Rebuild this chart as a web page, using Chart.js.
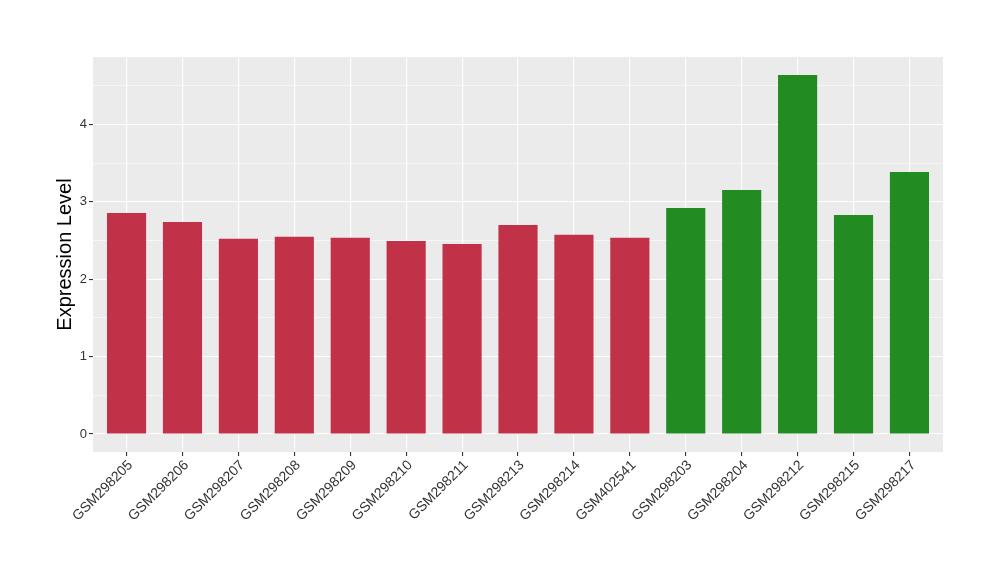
<!DOCTYPE html>
<html>
<head>
<meta charset="utf-8">
<script src="https://cdn.jsdelivr.net/npm/chart.js@4"></script>
<style>
  html, body { margin: 0; padding: 0; background: #ffffff; }
  #wrap { width: 1000px; height: 580px; }
</style>
</head>
<body>
<div id="wrap"><canvas id="expr" width="1000" height="580"></canvas></div>
<script>
const samples = ['GSM298205', 'GSM298206', 'GSM298207', 'GSM298208', 'GSM298209', 'GSM298210', 'GSM298211', 'GSM298213', 'GSM298214', 'GSM402541', 'GSM298203', 'GSM298204', 'GSM298212', 'GSM298215', 'GSM298217'];
const expression = [2.857, 2.741, 2.522, 2.548, 2.535, 2.496, 2.457, 2.702, 2.574, 2.535, 2.921, 3.153, 4.640, 2.831, 3.385];
const groups = ['a', 'a', 'a', 'a', 'a', 'a', 'a', 'a', 'a', 'a', 'b', 'b', 'b', 'b', 'b'];
const groupColors = { a: '#C13147', b: '#228B22' };
const yMajor = [0, 1, 2, 3, 4];
const yMinor = [0.5, 1.5, 2.5, 3.5, 4.5];

// ggplot style gray panel behind the plot
const panelBg = {
  id: 'panelBg',
  beforeDraw(chart) {
    const { ctx, chartArea } = chart;
    ctx.save();
    ctx.fillStyle = '#EBEBEB';
    ctx.fillRect(chartArea.left, chartArea.top, chartArea.right - chartArea.left, chartArea.bottom - chartArea.top);
    ctx.restore();
  },
};

const isMajor = (v) => yMajor.includes(v);

// samples sit on a numeric x axis so the ggplot 0.6 expansion can be kept
const points = samples.map((name, i) => ({ x: i, y: expression[i] }));

new Chart(document.getElementById('expr'), {
  type: 'bar',
  data: {
    datasets: [{
      data: points,
      backgroundColor: groups.map((g) => groupColors[g]),
      borderWidth: 0,
      barPercentage: 0.7,
      categoryPercentage: 1.0,
    }],
  },
  options: {
    responsive: false,
    animation: false,
    layout: { padding: { top: 57, right: 57, left: 0, bottom: 0 } },
    plugins: {
      legend: { display: false },
      tooltip: { enabled: false },
    },
    scales: {
      x: {
        type: 'linear',
        min: -0.6,
        max: samples.length - 1 + 0.6,
        offset: false,
        border: { display: false },
        grid: {
          offset: false,
          color: '#ffffff',
          lineWidth: 1.1,
          tickColor: '#333333',
          tickLength: 4,
        },
        afterBuildTicks(scale) {
          scale.ticks = samples.map((name, i) => ({ value: i }));
        },
        ticks: {
          color: '#333333',
          font: { family: 'Liberation Sans', size: 14 },
          minRotation: 45,
          maxRotation: 45,
          padding: 1,
          labelOffset: 4,
          autoSkip: false,
          callback: (v) => samples[v],
        },
        afterFit(scale) { scale.height = 128; },
      },
      y: {
        min: -0.232,
        max: 4.872,
        border: { display: false },
        grid: {
          color: '#ffffff',
          lineWidth: (c) => (isMajor(c.tick.value) ? 1.1 : 0.55),
          tickColor: (c) => (isMajor(c.tick.value) ? '#333333' : 'rgba(0,0,0,0)'),
          tickLength: 4,
        },
        afterBuildTicks(scale) {
          scale.ticks = yMajor.concat(yMinor).sort((a, b) => a - b).map((v) => ({ value: v }));
        },
        ticks: {
          color: '#333333',
          font: { family: 'Liberation Sans', size: 13 },
          padding: 2,
          callback: (v) => (isMajor(v) ? String(v) : ''),
        },
        title: {
          display: true,
          text: 'Expression Level',
          color: '#000000',
          font: { family: 'Liberation Sans', size: 20 },
          padding: { top: 53, bottom: 0 },
        },
        afterFit(scale) { scale.width = 93; },
      },
    },
  },
  plugins: [panelBg],
});
</script>
</body>
</html>
